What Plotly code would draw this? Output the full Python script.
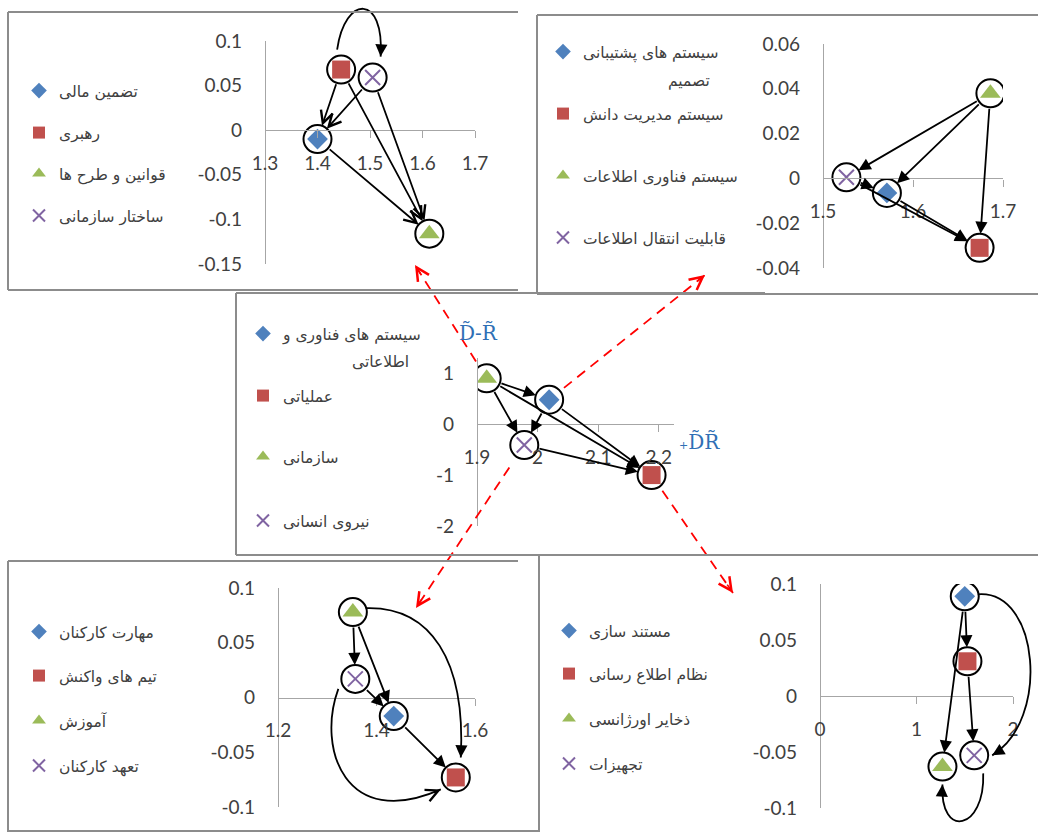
import math
import plotly.graph_objects as go

W, H = 1038, 832

# ---------------- data ----------------
# series order in every panel: 0 = diamond, 1 = square, 2 = triangle, 3 = cross
a_labels = ["تضمین مالی", "رهبری", "قوانین و طرح ها", "ساختار سازمانی"]
a_x = [1.400, 1.445, 1.613, 1.505]
a_y = [-0.010, 0.068, -0.116, 0.059]
a_links = [(1, 0), (3, 0), (1, 2), (3, 2), (0, 2)]
a_xticks = [1.3, 1.4, 1.5, 1.6, 1.7]
a_xtext = ["1.3", "1.4", "1.5", "1.6", "1.7"]
a_yticks = [-0.15, -0.1, -0.05, 0, 0.05, 0.1]
a_ytext = ["-0.15", "-0.1", "-0.05", "0", "0.05", "0.1"]

b_labels = ["سیستم های پشتیبانی\nتصمیم", "سیستم مدیریت دانش", "سیستم فناوری اطلاعات", "قابلیت انتقال اطلاعات"]
b_x = [1.571, 1.674, 1.686, 1.526]
b_y = [-0.0065, -0.031, 0.038, 0.0005]
b_links = [(2, 3), (2, 0), (2, 1), (3, 0), (3, 1), (0, 1)]
b_xticks = [1.5, 1.6, 1.7]
b_xtext = ["1.5", "1.6", "1.7"]
b_yticks = [-0.04, -0.02, 0, 0.02, 0.04, 0.06]
b_ytext = ["-0.04", "-0.02", "0", "0.02", "0.04", "0.06"]

c_labels = ["سیستم های فناوری و\nاطلاعاتی", "عملیاتی", "سازمانی", "نیروی انسانی"]
c_x = [2.019, 2.188, 1.916, 1.978]
c_y = [0.48, -1.00, 0.90, -0.41]
c_links = [(2, 0), (2, 3), (2, 1), (0, 3), (0, 1), (3, 1)]
c_xticks = [1.9, 2.0, 2.1, 2.2]
c_xtext = ["1.9", "2", "2.1", "2.2"]
c_yticks = [-2, -1, 0, 1]
c_ytext = ["-2", "-1", "0", "1"]

d_labels = ["مهارت کارکنان", "تیم های واکنش", "آموزش", "تعهد کارکنان"]
d_x = [1.435, 1.561, 1.352, 1.357]
d_y = [-0.017, -0.073, 0.078, 0.017]
d_links = [(2, 3), (2, 0), (3, 0), (0, 1)]
d_xticks = [1.2, 1.4, 1.6]
d_xtext = ["1.2", "1.4", "1.6"]
d_yticks = [-0.1, -0.05, 0, 0.05, 0.1]
d_ytext = ["-0.1", "-0.05", "0", "0.05", "0.1"]

e_labels = ["مستند سازی", "نظام اطلاع رسانی", "ذخایر اورژانسی", "تجهیزات"]
e_x = [1.500, 1.528, 1.269, 1.598]
e_y = [0.089, 0.031, -0.063, -0.053]
e_links = [(0, 1), (0, 2), (1, 3)]
e_xticks = [0, 1, 2]
e_xtext = ["0", "1", "2"]
e_yticks = [-0.1, -0.05, 0, 0.05, 0.1]
e_ytext = ["-0.1", "-0.05", "0", "0.05", "0.1"]

# ---------------- styles ----------------
SYMBOLS = ["diamond", "square", "triangle-up", "x-thin"]
COLORS = ["#4f81bd", "#c0504d", "#9bbb59", "#8064a2"]
SIZES = [16, 18, 18, 15]
RING = 28
TICKFONT = dict(family="Lato, Carlito, Liberation Sans", size=19, color="#404040")
LEGFONT = dict(family="DejaVu Sans", size=15.5, color="#404040")
AXCOL = "#a6a6a6"

# panel geometry (pixels of the page) and axis ranges
panels = [
    dict(key="", labels=a_labels, xs=a_x, ys=a_y, links=a_links, xt=a_xticks, xtt=a_xtext, yt=a_yticks, ytt=a_ytext,
         xpx=(265, 475), ypx=(41, 264), xr=(1.3, 1.7), yr=(-0.15, 0.1), head=5,
         leg_x=39, leg_y=[90, 132, 173, 215], wrap=None),
    dict(key="2", labels=b_labels, xs=b_x, ys=b_y, links=b_links, xt=b_xticks, xtt=b_xtext, yt=b_yticks, ytt=b_ytext,
         xpx=(823, 1003), ypx=(44, 268), xr=(1.5, 1.7), yr=(-0.04, 0.06), head=2,
         leg_x=563, leg_y=[51, 113, 175, 237], wrap=(712, 81)),
    dict(key="3", labels=c_labels, xs=c_x, ys=c_y, links=c_links, xt=c_xticks, xtt=c_xtext, yt=c_yticks, ytt=c_ytext,
         xpx=(477, 674), ypx=(358, 526), xr=(1.9, 2.225), yr=(-2.0, 1.3), head=2,
         leg_x=263, leg_y=[333, 395, 456, 520], wrap=(411, 362)),
    dict(key="4", labels=d_labels, xs=d_x, ys=d_y, links=d_links, xt=d_xticks, xtt=d_xtext, yt=d_yticks, ytt=d_ytext,
         xpx=(278, 475), ypx=(588, 807), xr=(1.2, 1.6), yr=(-0.1, 0.1), head=2,
         leg_x=39, leg_y=[631, 675, 720, 765], wrap=None),
    dict(key="5", labels=e_labels, xs=e_x, ys=e_y, links=e_links, xt=e_xticks, xtt=e_xtext, yt=e_yticks, ytt=e_ytext,
         xpx=(820, 1013), ypx=(584, 808), xr=(0, 2), yr=(-0.1, 0.1), head=2,
         leg_x=569, leg_y=[630, 673, 718, 763], wrap=None),
]


def to_px(p, x, y):
    (x0, x1), (y0, y1) = p["xpx"], p["ypx"]
    (r0, r1), (s0, s1) = p["xr"], p["yr"]
    return (x0 + (x - r0) / (r1 - r0) * (x1 - x0),
            y1 - (y - s0) / (s1 - s0) * (y1 - y0))


def paper(px, py):
    return px / W, 1 - py / H


fig = go.Figure()
layout = dict(width=W, height=H, margin=dict(l=0, r=0, t=0, b=0),
              paper_bgcolor="white", plot_bgcolor="white", template="none",
              showlegend=True)
annotations, shapes = [], []
leg_no = 0

for p in panels:
    k = p["key"]
    xa, ya = "x" + k, "y" + k
    (x0, x1), (y0, y1) = p["xpx"], p["ypx"]
    s0, s1 = p["yr"]
    zero_pos = (1 - y1 / H) + (0 - s0) / (s1 - s0) * ((y1 - y0) / H)
    layout["xaxis" + k] = dict(domain=[x0 / W, x1 / W], range=list(p["xr"]), anchor="free", position=zero_pos,
                               showline=True, linecolor=AXCOL, linewidth=1.3, ticks="outside", ticklen=7,
                               tickcolor=AXCOL, tickwidth=1.3, tickvals=p["xt"], ticktext=p["xtt"],
                               tickfont=TICKFONT, ticklabelstandoff=9, showgrid=False, zeroline=False)
    layout["yaxis" + k] = dict(domain=[1 - y1 / H, 1 - y0 / H], range=list(p["yr"]), anchor="free",
                               position=x0 / W, showline=True, linecolor=AXCOL, linewidth=1.3, ticks="",
                               tickvals=p["yt"], ticktext=p["ytt"], tickfont=TICKFONT,
                               ticklabelstandoff=19, showgrid=False, zeroline=False)

    for i in range(4):
        leg_no += 1
        lid = "legend" if leg_no == 1 else "legend%d" % leg_no
        parts = p["labels"][i].split("\n")
        line = dict(color=COLORS[i], width=2) if i == 3 else dict(width=0)
        fig.add_trace(go.Scatter(x=[p["xs"][i]], y=[p["ys"][i]], mode="markers", xaxis=xa, yaxis=ya,
                                 name=parts[0], legend=lid, hoverinfo="skip",
                                 marker=dict(symbol=SYMBOLS[i], size=SIZES[i], color=COLORS[i], line=line)))
        layout[lid] = dict(x=(p["leg_x"] - 20) / W, y=1 - (p["leg_y"][i] - 16) / H, xanchor="left",
                           yanchor="top", bgcolor="rgba(0,0,0,0)", borderwidth=0, font=LEGFONT,
                           itemsizing="constant", valign="top")
        # wrapped second line of a long legend entry, right-aligned under the first
        if len(parts) > 1 and p["wrap"]:
            wx, wy = paper(*p["wrap"])
            annotations.append(dict(x=wx, y=wy, xref="paper", yref="paper", text=parts[1], showarrow=False,
                                    xanchor="right", yanchor="middle", font=LEGFONT))

    # rings round every point
    fig.add_trace(go.Scatter(x=p["xs"], y=p["ys"], mode="markers", xaxis=xa, yaxis=ya, showlegend=False,
                             hoverinfo="skip",
                             marker=dict(symbol="circle-open", size=RING, color="black", line=dict(width=2, color="black"))))

    # straight influence arrows
    for s, t in p["links"]:
        annotations.append(dict(x=p["xs"][t], y=p["ys"][t], ax=p["xs"][s], ay=p["ys"][s],
                                xref=xa, yref=ya, axref=xa, ayref=ya, text="", showarrow=True,
                                arrowhead=p["head"], arrowsize=1.35, arrowwidth=1.8, arrowcolor="black",
                                standoff=RING / 2, startstandoff=RING / 2))
    p["px"] = [to_px(p, p["xs"][i], p["ys"][i]) for i in range(4)]


# curved arrows: (panel, source, target, start offset, c1 offset from start, c2 offset from end, end offset, head)
curves = [
    (0, 1, 3, (-4, -20), (8, -55), (4, -63), (8, -21), 2),
    (3, 2, 1, (13, -4), (65, -2), (5, -97), (5, -20), 2),
    (3, 3, 1, (-17, 10), (-22, 60), (-95, 42), (-15, 12), 5),
    (4, 0, 3, (13, -2), (62, -5), (58, -35), (18, 0), 2),
    (4, 3, 2, (9, 18), (2, 57), (-3, 55), (0, 18), 2),
]
for pi, s, t, so, c1o, c2o, eo, hd in curves:
    P = panels[pi]["px"]
    st = (P[s][0] + so[0], P[s][1] + so[1])
    en = (P[t][0] + eo[0], P[t][1] + eo[1])
    c1 = (st[0] + c1o[0], st[1] + c1o[1])
    c2 = (en[0] + c2o[0], en[1] + c2o[1])
    pts = [paper(*q) for q in (st, c1, c2, en)]
    path = "M%.5f,%.5f C%.5f,%.5f %.5f,%.5f %.5f,%.5f" % tuple(v for q in pts for v in q)
    shapes.append(dict(type="path", path=path, xref="paper", yref="paper",
                       line=dict(color="black", width=1.8)))
    dx, dy = c2[0] - en[0], c2[1] - en[1]
    n = math.hypot(dx, dy)
    ex, ey = paper(*en)
    annotations.append(dict(x=ex, y=ey, xref="paper", yref="paper", ax=dx / n * 9, ay=dy / n * 9,
                            text="", showarrow=True, arrowhead=hd, arrowsize=1.35, arrowwidth=1.8,
                            arrowcolor="black"))

# red dashed pointers from the central chart to the detailed charts
pointers = [(2, (415, 265), 20), (0, (705, 275), 19), (3, (416, 608), 27), (1, (733, 593), 19)]
C = panels[2]["px"]
for i, tip, gap in pointers:
    cx, cy = C[i]
    dx, dy = tip[0] - cx, tip[1] - cy
    n = math.hypot(dx, dy)
    st = (cx + dx / n * gap, cy + dy / n * gap)
    a, b = paper(*st)
    c, d = paper(*tip)
    shapes.append(dict(type="line", xref="paper", yref="paper", x0=a, y0=b, x1=c, y1=d,
                       line=dict(color="#ff0000", width=1.8, dash="10px,7px")))
    annotations.append(dict(x=c, y=d, xref="paper", yref="paper", ax=-dx / n * 12, ay=-dy / n * 12,
                            text="", showarrow=True, arrowhead=5, arrowsize=1.6, arrowwidth=1.6,
                            arrowcolor="#ff0000"))

# panel frames
BOX = "#8c8c8c"
frame_segments = [
    ((8, 12), (518, 12)), ((8, 12), (8, 290)), ((8, 290), (518, 290)),
    ((537, 15), (1038, 15)), ((537, 15), (537, 294)), ((537, 294), (1038, 294)),
    ((236, 293), (765, 293)), ((236, 293), (236, 555)), ((236, 555), (539, 555)),
    ((8, 561), (518, 561)), ((8, 561), (8, 832)), ((8, 831), (539, 831)),
    ((539, 555), (1038, 555)), ((539, 555), (539, 832)),
]
for (ax_, ay_), (bx_, by_) in frame_segments:
    a, b = paper(ax_, ay_)
    c, d = paper(bx_, by_)
    shapes.append(dict(type="line", xref="paper", yref="paper", x0=a, y0=b, x1=c, y1=d,
                       line=dict(color=BOX, width=2)))

# axis captions of the central chart
annotations.append(dict(x=478 / W, y=1 - 333 / H, xref="paper", yref="paper", text="D\u0303-R\u0303",
                        showarrow=False, font=dict(family="DejaVu Serif", size=20, color="#2f6fb5")))
annotations.append(dict(x=722 / W, y=1 - 442 / H, xref="paper", yref="paper",
                        text="<span style='font-size:11px'>+</span>D\u0303R\u0303",
                        showarrow=False, font=dict(family="DejaVu Serif", size=20, color="#2f6fb5")))

layout["annotations"] = annotations
layout["shapes"] = shapes
fig.update_layout(**layout)
fig.write_html("out.html")
